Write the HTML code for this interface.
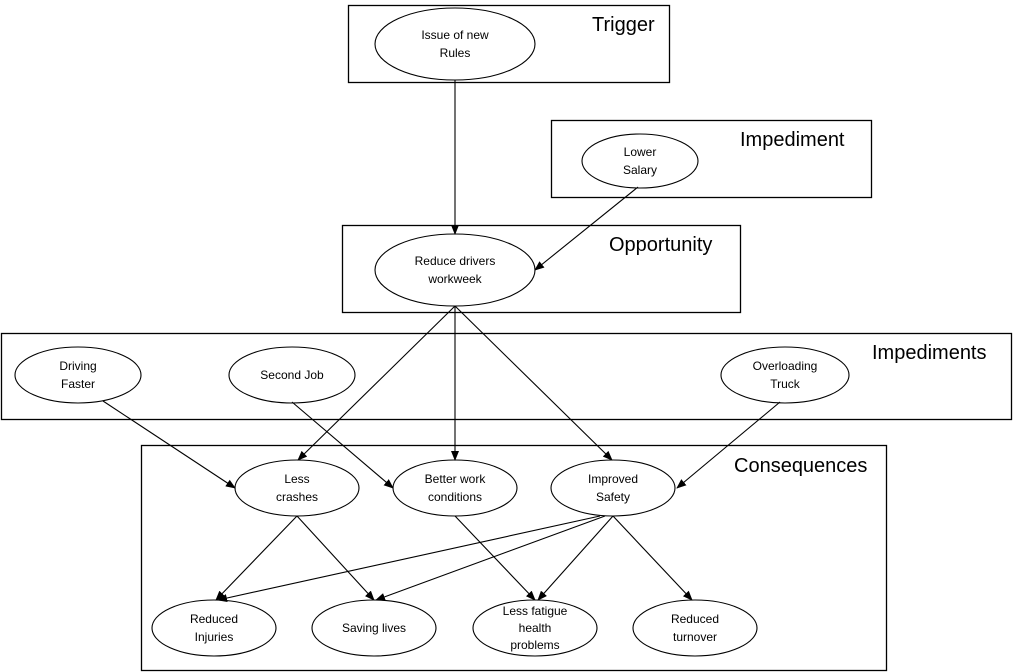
<!DOCTYPE html>
<html><head><meta charset="utf-8"><style>
html,body{margin:0;padding:0;background:#fff;}
svg{display:block;font-family:"Liberation Sans",Arial,sans-serif;}
.b{fill:#fff;stroke:#000;stroke-width:1.3;}
.e{fill:#fff;stroke:#000;stroke-width:1.1;}
.t{font-size:20px;fill:#000;}
.n{font-size:12px;fill:#000;text-anchor:middle;}
.a{stroke:#000;stroke-width:1.1;marker-end:url(#ar);fill:none;}
</style></head><body>
<svg width="1017" height="672" viewBox="0 0 1017 672">
<defs><marker id="ar" markerWidth="10" markerHeight="8" refX="9" refY="4" orient="auto" markerUnits="userSpaceOnUse"><path d="M0,0 L10,4 L0,8 z" fill="#000"/></marker></defs>
<rect class="b" x="348.5" y="5.5" width="321" height="77"/>
<rect class="b" x="551.5" y="120.5" width="320" height="77"/>
<rect class="b" x="342.5" y="225.5" width="398" height="87"/>
<rect class="b" x="1.5" y="333.5" width="1010" height="86"/>
<rect class="b" x="141.5" y="445.5" width="745" height="225"/>
<text class="t" x="592" y="31">Trigger</text>
<text class="t" x="740" y="146">Impediment</text>
<text class="t" x="609" y="251">Opportunity</text>
<text class="t" x="872" y="359">Impediments</text>
<text class="t" x="734" y="472">Consequences</text>

<ellipse class="e" cx="455" cy="44" rx="80" ry="36"/>
<text class="n" x="455" y="39">Issue of new</text><text class="n" x="455" y="57">Rules</text>
<ellipse class="e" cx="640" cy="161" rx="58" ry="27"/>
<text class="n" x="640" y="156">Lower</text><text class="n" x="640" y="174">Salary</text>
<ellipse class="e" cx="455" cy="270" rx="80" ry="36"/>
<text class="n" x="455" y="265">Reduce drivers</text><text class="n" x="455" y="283">workweek</text>
<ellipse class="e" cx="78" cy="375" rx="63" ry="28"/>
<text class="n" x="78" y="370">Driving</text><text class="n" x="78" y="388">Faster</text>
<ellipse class="e" cx="292" cy="375" rx="63" ry="28"/>
<text class="n" x="292" y="379">Second Job</text>
<ellipse class="e" cx="785" cy="375" rx="64" ry="28"/>
<text class="n" x="785" y="370">Overloading</text><text class="n" x="785" y="388">Truck</text>
<ellipse class="e" cx="297" cy="488" rx="62" ry="28"/>
<text class="n" x="297" y="483">Less</text><text class="n" x="297" y="501">crashes</text>
<ellipse class="e" cx="455" cy="488" rx="62" ry="28"/>
<text class="n" x="455" y="483">Better work</text><text class="n" x="455" y="501">conditions</text>
<ellipse class="e" cx="613" cy="488" rx="62" ry="28"/>
<text class="n" x="613" y="483">Improved</text><text class="n" x="613" y="501">Safety</text>
<ellipse class="e" cx="214" cy="628" rx="62" ry="28"/>
<text class="n" x="214" y="623">Reduced</text><text class="n" x="214" y="641">Injuries</text>
<ellipse class="e" cx="374" cy="628" rx="62" ry="28"/>
<text class="n" x="374" y="632">Saving lives</text>
<ellipse class="e" cx="535" cy="628" rx="62" ry="28"/>
<text class="n" x="535" y="615">Less fatigue</text><text class="n" x="535" y="632">health</text><text class="n" x="535" y="649">problems</text>
<ellipse class="e" cx="695" cy="628" rx="62" ry="28"/>
<text class="n" x="695" y="623">Reduced</text><text class="n" x="695" y="641">turnover</text>

<line class="a" x1="455" y1="80" x2="455" y2="234"/>
<line class="a" x1="638" y1="187" x2="535" y2="270"/>
<line class="a" x1="455" y1="306" x2="298" y2="460"/>
<line class="a" x1="455" y1="306" x2="455" y2="460"/>
<line class="a" x1="455" y1="306" x2="612" y2="460"/>
<line class="a" x1="103" y1="401" x2="235" y2="488"/>
<line class="a" x1="292" y1="402" x2="393" y2="488"/>
<line class="a" x1="780" y1="402" x2="677" y2="488"/>
<line class="a" x1="297" y1="516" x2="216" y2="600"/>
<line class="a" x1="297" y1="516" x2="374" y2="600"/>
<line class="a" x1="455" y1="516" x2="535" y2="600"/>
<line class="a" x1="600" y1="516" x2="218" y2="600"/>
<line class="a" x1="605" y1="516" x2="376" y2="600"/>
<line class="a" x1="613" y1="516" x2="538" y2="600"/>
<line class="a" x1="613" y1="516" x2="692" y2="600"/>
</svg>
</body></html>
